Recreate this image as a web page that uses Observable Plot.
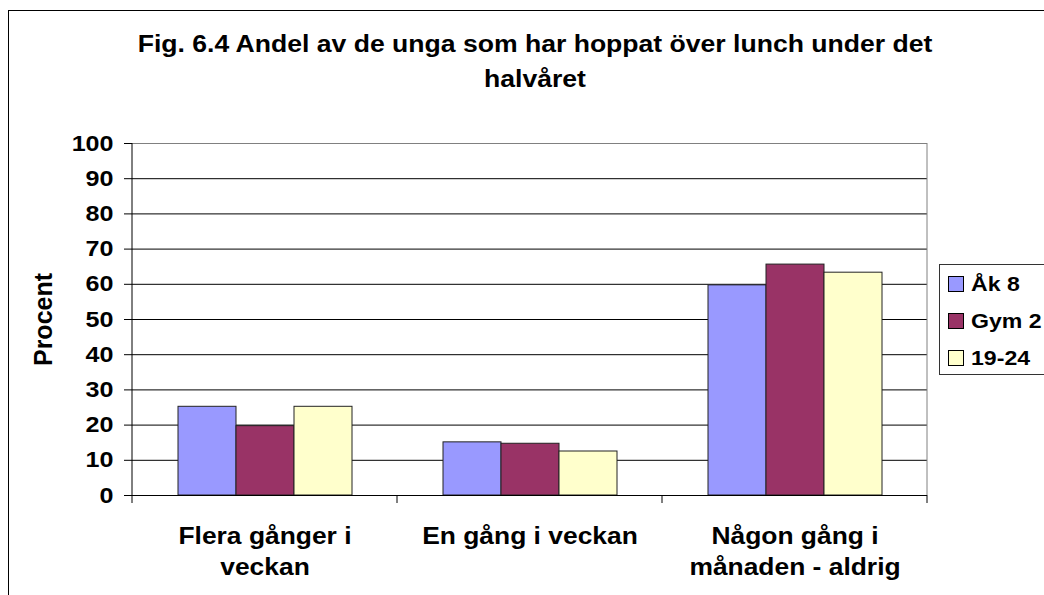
<!DOCTYPE html>
<html>
<head>
<meta charset="utf-8">
<script src="https://cdn.jsdelivr.net/npm/d3@7"></script>
<script src="https://cdn.jsdelivr.net/npm/@observablehq/plot@0.6"></script>
<style>
  html, body { margin: 0; padding: 0; background: #fff; width: 1044px; height: 595px; overflow: hidden; }
  body { position: relative; font-family: "Liberation Sans", Arial, sans-serif; font-weight: bold; color: #000; }
  #outer { position: absolute; left: 8px; top: 10px; width: 1100px; height: 700px; border: 1px solid #000; }
  #title { position: absolute; left: 135px; width: 800px; top: 27px; text-align: center; font-size: 23px; line-height: 35px; transform: scaleX(1.155); transform-origin: 400px 0; }
  #chart { position: absolute; left: 0; top: 0; }
  #legend { position: absolute; left: 939px; top: 264px; width: 160px; height: 109px; border: 1px solid #333; background: #fff; }
  .row { height: 37px; display: flex; align-items: center; padding-left: 8px; font-size: 21px; }
  .sw { width: 14px; height: 14px; border: 1px solid #000; margin-right: 7px; flex: none; }
  .lt { display: inline-block; transform: scaleX(1.1); transform-origin: 0 50%; white-space: nowrap; }
</style>
</head>
<body>
<div id="outer"></div>
<div id="chart"></div>
<div id="title">Fig. 6.4 Andel av de unga som har hoppat över lunch under det<br>halvåret</div>
<div id="legend"></div>
<script>
const categories = ["Flera gånger i veckan", "En gång i veckan", "Någon gång i månaden - aldrig"];
const categoryLabels = ["Flera gånger i\nveckan", "En gång i veckan", "Någon gång i\nmånaden - aldrig"];
const series = ["Åk 8", "Gym 2", "19-24"];
const seriesColors = ["#9999FF", "#993366", "#FFFFCC"];
const ak8 = [25.2, 15.1, 59.7];
const gym2 = [19.7, 14.7, 65.6];
const age1924 = [25.2, 12.5, 63.3];
const yTicks = [0, 10, 20, 30, 40, 50, 60, 70, 80, 90, 100];
const yLabel = "Procent";

const seriesValues = [ak8, gym2, age1924];
const data = [];
categories.forEach((c, i) => {
  series.forEach((s, j) => data.push({category: c, series: s, value: seriesValues[j][i]}));
});
const labelOf = new Map(categories.map((c, i) => [c, categoryLabels[i]]));

function frameLines(index, scales) {
  const {fx, y} = scales;
  const g = d3.create("svg:g").attr("fill", "none").attr("stroke-width", 1);
  const left = fx(categories[0]);
  const right = fx(categories[categories.length - 1]) + fx.bandwidth();
  const y0 = y(0), y100 = y(100);
  const line = (x1, y1, x2, y2, stroke) =>
    g.append("line").attr("x1", x1).attr("y1", y1).attr("x2", x2).attr("y2", y2).attr("stroke", stroke);
  line(right, y100, right, y0, "#808080");
  line(left, y100, left, y0 + 8, "#000");
  categories.slice(1).forEach(c => line(fx(c), y0, fx(c), y0 + 8, "#000"));
  line(right, y0, right, y0 + 8, "#000");
  return g.node();
}

const chart = Plot.plot({
  width: 1044,
  height: 595,
  marginLeft: 131,
  marginRight: 117,
  marginTop: 143,
  marginBottom: 100,
  style: {fontFamily: "'Liberation Sans', Arial, sans-serif", fontWeight: "bold", fontSize: "22px", color: "#000", background: "transparent", overflow: "visible"},
  fx: {domain: categories, padding: 0, label: null},
  x: {domain: series, paddingInner: 0, paddingOuter: 0.75, axis: null},
  y: {domain: [0, 100]},
  color: {domain: series, range: seriesColors},
  marks: [
    Plot.ruleY(yTicks.filter(t => t > 0 && t < 100), {stroke: "#000"}),
    Plot.ruleY([100], {stroke: "#808080"}),
    Plot.barY(data, {fx: "category", x: "series", y: "value", fill: "series", stroke: "#222", strokeWidth: 1}),
    Plot.ruleY([0], {stroke: "#000"}),
    Plot.axisY({ticks: yTicks, tickSize: 8, tickPadding: 11, fontSize: 22, fontWeight: "bold", label: null}),
    Plot.axisY({ticks: [], tickSize: 0, label: yLabel, labelAnchor: "center", labelArrow: "none", labelOffset: 98, fontSize: 25, fontWeight: "bold"}),
    Plot.axisFx({anchor: "bottom", tickSize: 0, tickPadding: 26, tickFormat: d => labelOf.get(d), lineHeight: 1.3, fontSize: 24, fontWeight: "bold", label: null}),
    Plot.frame({facet: "super", stroke: "none", render: (index, scales) => frameLines(index, scales)})
  ]
});
document.getElementById("chart").appendChild(chart);

function stretch(selector, s) {
  chart.querySelectorAll(selector).forEach(t => {
    const x = +t.getAttribute("x") || 0;
    const tr = t.getAttribute("transform") || "";
    t.setAttribute("transform", `${tr} translate(${x},0) scale(${s},1) translate(${-x},0)`);
  });
}
stretch('g[aria-label="y-axis tick label"] text', 1.14);
stretch('g[aria-label="fx-axis tick label"] text', 1.1);

const legend = document.getElementById("legend");
series.forEach((s, i) => {
  const row = document.createElement("div");
  row.className = "row";
  const sw = document.createElement("div");
  sw.className = "sw";
  sw.style.background = seriesColors[i];
  const t = document.createElement("span");
  t.className = "lt";
  t.textContent = s;
  row.appendChild(sw);
  row.appendChild(t);
  legend.appendChild(row);
});
</script>
</body>
</html>
